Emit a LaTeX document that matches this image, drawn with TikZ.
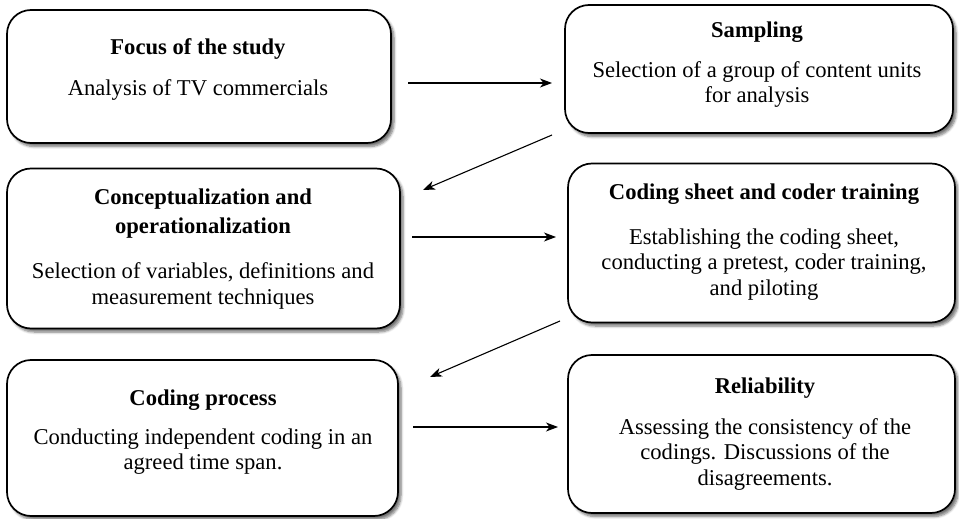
\documentclass[tikz,border=0pt]{standalone}
\usepackage{fontspec}
\setmainfont{Liberation Serif}
\usetikzlibrary{arrows.meta,shadows.blur}
\tikzset{
  box/.style={draw=black, line width=1.7pt, rounded corners=24pt, fill=white,
    blur shadow={shadow xshift=3pt, shadow yshift=-3.5pt, shadow blur steps=6, shadow blur radius=2.5pt, shadow opacity=55}},
  txt/.style={align=center, font=\fontsize{22.6}{25.5}\selectfont, inner sep=0pt},
  arr/.style={line width=1.1pt, -{Stealth[length=12pt,width=9pt,inset=3.5pt]}}
}
\begin{document}
\begin{tikzpicture}[x=1pt,y=-1pt]
\useasboundingbox (0,0) rectangle (959,519);
% boxes
\node[box, minimum width=384pt, minimum height=133pt] (b1) at (199,76.5) {};
\node[box, minimum width=388pt, minimum height=128pt] (b2) at (759,69) {};
\node[box, minimum width=393pt, minimum height=160pt] (b3) at (203.5,248.5) {};
\node[box, minimum width=387pt, minimum height=159pt] (b4) at (761.5,243) {};
\node[box, minimum width=391pt, minimum height=156pt] (b5) at (202.5,438) {};
\node[box, minimum width=387pt, minimum height=158pt] (b6) at (761.5,434) {};
% texts
\node[txt] (t1) at (198,69) {\textbf{Focus of the study}\\[15.5pt]Analysis of TV commercials};
\node[txt] (t2) at (757,65) {\textbf{Sampling}\\[14pt]Selection of a group of content units\\for analysis};
\node[txt] (t3) at (203,249) {\textbf{Conceptualization and}\\[3.5pt]\textbf{operationalization}\\[20pt]Selection of variables, definitions and\\measurement techniques};
\node[txt] (t4) at (764,242) {\textbf{Coding sheet and coder training}\\[19pt]Establishing the coding sheet,\\conducting a pretest, coder training,\\and piloting};
\node[txt] (t5) at (203,432) {\textbf{Coding process}\\[13.5pt]Conducting independent coding in an\\agreed time span.};
\node[txt] (t6) at (765,434) {\textbf{Reliability}\\[15.5pt]Assessing the consistency of the\\codings. Discussions of the\\disagreements.};
% arrow end points
\coordinate (a1s) at (408,83);  \coordinate (a1e) at (552,83);
\coordinate (a2s) at (552,135); \coordinate (a2e) at (423,190);
\coordinate (a3s) at (412,237); \coordinate (a3e) at (556,237);
\coordinate (a4s) at (560,321); \coordinate (a4e) at (430,377);
\coordinate (a5s) at (413,427); \coordinate (a5e) at (558,427);
\draw[arr] (a1s) -- (a1e);
\draw[arr] (a2s) -- (a2e);
\draw[arr] (a3s) -- (a3e);
\draw[arr] (a4s) -- (a4e);
\draw[arr] (a5s) -- (a5e);
\end{tikzpicture}
\end{document}
